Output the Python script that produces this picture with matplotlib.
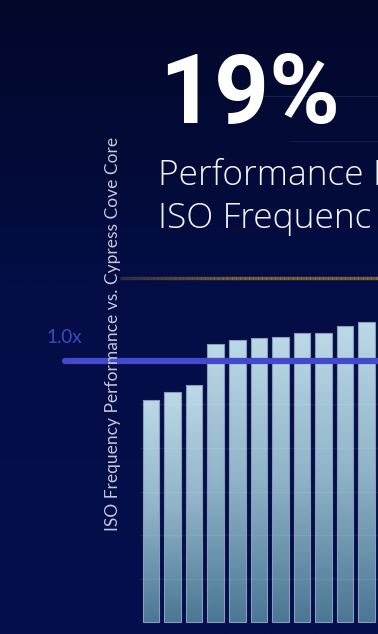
import numpy as np
import matplotlib
matplotlib.use("Agg")
import matplotlib.pyplot as plt
from matplotlib.colors import LinearSegmentedColormap
from matplotlib.patches import Rectangle

# ---- data ----
bar_index = list(range(11))
perf = [0.910, 0.928, 0.944, 1.040, 1.048, 1.052, 1.055, 1.064, 1.065, 1.080, 1.089]
baseline = 0.4
ref_value = 1.0
ref_label = "1.0x"
grid_values = [0.5, 0.6, 0.7, 0.8, 0.9]
headline = "19%"
subtitle_lines = ["Performance I", "ISO Frequenc"]
ylabel = "ISO Frequency Performance vs. Cypress Cove Core"

W, H = 378, 634
fig = plt.figure(figsize=(W / 100, H / 100), dpi=100)

# background gradient
bg = fig.add_axes([0, 0, 1, 1], zorder=0)
bg.set_axis_off()
grad = np.linspace(0, 1, 256).reshape(-1, 1)
bg_cmap = LinearSegmentedColormap.from_list(
    "bg", [(0, "#02072a"), (0.2, "#030a35"), (0.45, "#040d45"), (1, "#040f4e")])
bg.imshow(grad, aspect="auto", cmap=bg_cmap, extent=[0, 1, 0, 1], origin="upper")
bg.set_xlim(0, 1)
bg.set_ylim(0, 1)
# faint slide lines
bg.plot([250 / W, 1], [1 - 96 / H, 1 - 96 / H], color="#1a2050", lw=0.8)
bg.plot([290 / W, 1], [1 - 141 / H, 1 - 141 / H], color="#0f1a55", lw=0.8)
# gold line with fade
xs = np.linspace(120 / W, 1, 200)
for i in range(len(xs) - 1):
    a = min(1.0, (i / len(xs)) * 1.4 + 0.35)
    bg.plot(xs[i:i + 2], [1 - 278 / H] * 2, color="#8a7038", lw=2.4,
            alpha=a, solid_capstyle="butt")

# data axes
ax = fig.add_axes([0, 0, 1, 1], zorder=1)
ax.patch.set_alpha(0)
ax.set_axis_off()
px_per_unit_x = 21.57
x0_px = 151.0
px_per_val = 435.0
ref_px = 361.0
xlim = (-x0_px / px_per_unit_x, (W - x0_px) / px_per_unit_x)
ylim = (ref_value - (H - ref_px) / px_per_val, ref_value + ref_px / px_per_val)

bar_cmap = LinearSegmentedColormap.from_list("bar", ["#4a7794", "#8fb3c8", "#bcd9e7"])
width = 0.765
for xi, v in zip(bar_index, perf):
    rect = Rectangle((xi - width / 2, baseline), width, v - baseline,
                     facecolor="none", edgecolor="#8a9cb8", lw=0.8, zorder=3)
    ax.add_patch(rect)
    im = ax.imshow(grad, aspect="auto", cmap=bar_cmap,
                   extent=[xi - width / 2, xi + width / 2, baseline, v],
                   origin="lower", zorder=2)
    im.set_clip_path(rect)

for g in grid_values:
    ax.axhline(g, xmin=140 / W, xmax=1, color="#ffffff", alpha=0.07, lw=1, zorder=4)

ax.axhline(ref_value, xmin=65 / W, xmax=1, color="#4349cc", lw=4.5, zorder=5,
           solid_capstyle="round")

ax.set_xlim(*xlim)
ax.set_ylim(*ylim)

# texts (figure coordinates)
fig.text(46 / W, 1 - 343 / H, ref_label, color="#4048c8", fontsize=13.5,
         family="Lato", ha="left", va="baseline")
fig.text(113 / W, 1 - 334 / H, ylabel, color="#c4c8d6", fontsize=12.5,
         family="Lato", rotation=90, ha="center", va="center")
fig.text(159 / W, 1 - 123 / H, headline, color="white", fontsize=69,
         family="Roboto", fontweight="bold", ha="left", va="baseline")
fig.text(158 / W, 1 - 185 / H, subtitle_lines[0], color="#f2f4f8", fontsize=25.5,
         family="Open Sans", fontweight="light", ha="left", va="baseline")
fig.text(158 / W, 1 - 228 / H, subtitle_lines[1], color="#f2f4f8", fontsize=25.5,
         family="Open Sans", fontweight="light", ha="left", va="baseline")

fig.savefig("out.png", dpi=100)
